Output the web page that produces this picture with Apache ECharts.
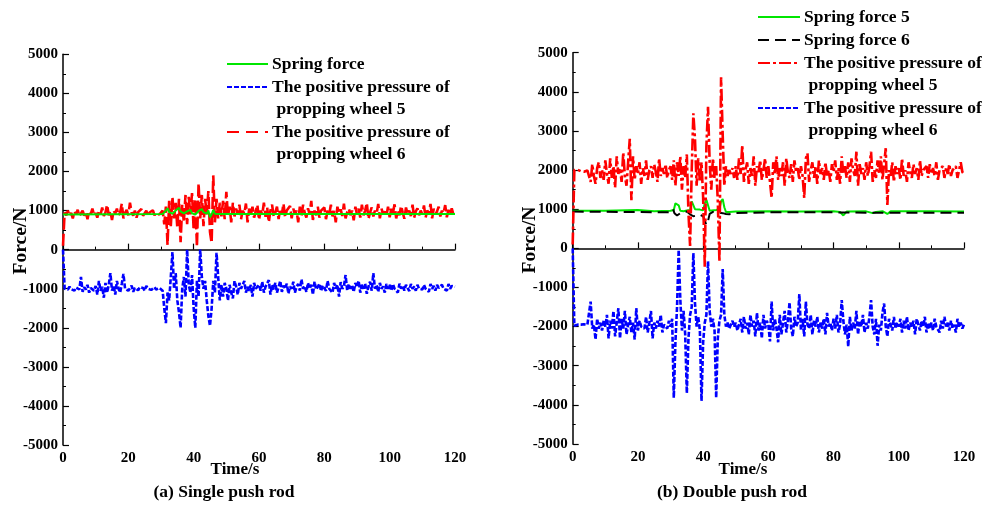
<!DOCTYPE html>
<html>
<head>
<meta charset="utf-8">
<script src="https://cdn.jsdelivr.net/npm/echarts@6/dist/echarts.min.js"></script>
<style>
  html, body { margin: 0; padding: 0; background: #fff; }
  #chart { width: 999px; height: 505px; }
</style>
</head>
<body>
<div id="chart"></div>
<script>
// Sampling grid for the measured forces: one sample every 0.5 s over 0..120 s
const SAMPLE_STEP = 0.5;
const SAMPLE_COUNT = 241;

const xTicks = [0, 20, 40, 60, 80, 100, 120];
const yTicks = [-5000, -4000, -3000, -2000, -1000, 0, 1000, 2000, 3000, 4000, 5000];

// (a) Single push rod — propping wheel 6 positive pressure (N)
const singleWheel6 = [
  100, 950, 880, 1000, 860, 940, 800, 980, 900, 1020, 850, 930, 1000, 870, 960, 780, 990, 910, 1050, 880,
  940, 820, 1000, 900, 1080, 860, 950, 1150, 880, 990, 760, 1000, 920, 1050, 870, 960, 1180, 800, 940, 1020,
  880, 1200, 950, 870, 1000, 820, 960, 910, 1040, 870, 930, 1000, 860, 950, 900, 1010, 880, 940, 990, 900,
  920, 1000, 650, 1100, 120, 1250, 600, 1350, 800, 1200, 550, 1300, 190, 1150, 700, 1400, 650, 1350, 900, 1450,
  500, 1300, 70, 1700, 800, 1400, 600, 1300, 900, 1500, 450, 170, 1900, 700, 1300, 800, 1200, 850, 1250, 780,
  1480, 860, 1100, 700, 1200, 850, 1050, 900, 1150, 780, 1000, 920, 1180, 700, 1050, 880, 1100, 820, 980, 1150,
  760, 1000, 900, 1200, 840, 1080, 700, 1000, 1150, 850, 950, 1100, 780, 1050, 900, 1180, 820, 1000, 950, 1120,
  800, 1050, 900, 1000, 700, 1100, 870, 1150, 940, 820, 1060, 900, 1250, 760, 1000, 880, 1100, 820, 1000, 950,
  1080, 780, 1000, 900, 1150, 850, 990, 700, 1100, 920, 1030, 860, 1180, 800, 960, 1050, 880, 1000, 750, 1100,
  900, 1050, 820, 1150, 880, 1000, 1200, 780, 950, 1080, 850, 1000, 920, 1170, 800, 1050, 900, 980, 860, 1100,
  830, 1050, 940, 1160, 800, 1000, 880, 1120, 950, 790, 1080, 900, 1000, 860, 1150, 820, 980, 1060, 880, 1000,
  900, 1130, 820, 1000, 940, 1170, 800, 1050, 900, 980, 1100, 850, 1000, 930, 1140, 830, 1020, 880, 1060, 900,
  950
];

// (a) Single push rod — propping wheel 5 positive pressure (N)
const singleWheel5 = [
  0, -1000, -980, -1020, -950, -1010, -990, -1050, -970, -1000, -1020, -700, -1080, -960, -1020, -900, -1100, -980, -1000, -1050,
  -930, -1150, -800, -1050, -950, -1230, -850, -1100, -900, -600, -1050, -920, -1150, -800, -1000, -1100, -870, -620, -1000, -950,
  -1050, -1000, -920, -1080, -980, -1000, -1040, -960, -1010, -980, -1050, -930, -1000, -970, -1030, -990, -960, -1020, -1000, -980,
  -1000, -1050, -1500, -1880, -1100, -1300, -700, -60, -1000, -600, -1300, -1600, -2000, -1000, -700, -1200, 0, -900, -1100, -650,
  -1500, -2000, -800, -1200, 0, -700, -1000, -800, -1300, -1700, -1950, -1500, -800, -1100, -80, -700, -1300, -900, -1200, -850,
  -1000, -1300, -900, -1100, -1250, -800, -950, -1150, -850, -1000, -1050, -800, -1100, -950, -1050, -900, -1200, -850, -1000, -950,
  -900, -1050, -820, -1100, -950, -1000, -780, -1150, -900, -1020, -850, -1100, -960, -800, -1080, -920, -1000, -870, -1120, -940,
  -1000, -820, -1100, -950, -880, -1050, -760, -1000, -930, -1080, -850, -1000, -900, -1150, -820, -1020, -950, -870, -1060, -920,
  -880, -1050, -800, -1000, -950, -1100, -850, -1000, -900, -1200, -830, -1000, -940, -650, -1050, -880, -1000, -920, -1080, -850,
  -960, -800, -1100, -900, -1000, -870, -1130, -950, -820, -1050, -600, -1000, -900, -1080, -850, -1000, -940, -1100, -880, -1000,
  -900, -1050, -880, -1000, -950, -1100, -870, -1000, -920, -1050, -900, -980, -1060, -880, -1000, -940, -1050, -900, -1000, -950,
  -1020, -900, -1000, -950, -1080, -880, -1000, -930, -1050, -900, -980, -1020, -900, -1000, -950, -1050, -880, -1000, -930, -980,
  -950
];

// (a) Single push rod — spring force, sampled at its turning points
const singleSpringT = [0, 30.5, 31.5, 32, 32.5, 33.5, 34.5, 35.5, 36, 37, 38, 39, 39.5, 40.5, 41.5, 42.5, 43, 44, 44.5, 45, 45.5, 46, 46.5, 47.5, 120];
const singleSpringF = [900, 910, 1000, 1060, 960, 920, 1000, 1070, 980, 930, 980, 1020, 930, 900, 990, 1040, 960, 920, 1000, 830, 900, 1020, 920, 910, 910];

// (b) Double push rod — propping wheel 5 positive pressure (N)
const doubleWheel5 = [
  100, 2000, 1980, 2010, 1990, 1970, 2000, 1960, 2000, 1990, 2010, 1700, 2150, 1850, 1650, 2050, 2200, 1800, 2000, 1750,
  2250, 1900, 1650, 2300, 1800, 2100, 1550, 2350, 1900, 2050, 1700, 2450, 1850, 1600, 2200, 2800, 1230, 2350, 1750, 2100,
  1900, 2200, 1650, 2050, 1850, 2250, 1750, 2000, 2100, 1800, 2150, 1950, 1700, 2300, 1850, 2050, 1900, 2150, 1800, 2000,
  2100, 1750, 2250, 1600, 2200, 1850, 2350, 1500, 2100, 1800, 2400, 900, 60, 2000, 3450, 2800, 1600, 2300, 1700, 2200,
  1300, -470, 2600, 3620, 2200, 1500, 2300, 1800, 2100, 1200, -340, 4370, 2900, 1600, 2100, 1850, 2000, 1900, 2050, 1800,
  2100, 1750, 2300, 1900, 2640, 1700, 2000, 2200, 1650, 2050, 1850, 2350, 1600, 2100, 1950, 2250, 1750, 2000, 2300, 1800,
  2100, 1700, 1290, 2200, 1900, 2350, 1750, 2050, 1850, 2200, 1600, 2300, 1950, 1800, 2150, 1700, 2250, 1950, 2050, 1750,
  2100, 1850, 1290, 2300, 2430, 1700, 2000, 2200, 1800, 2100, 1650, 2250, 1900, 2050, 1750, 2200, 1850, 2000, 1700, 2150,
  1950, 2250, 1750, 2050, 1650, 2350, 1900, 2100, 1800, 2200, 1700, 2300, 2000, 1850, 2470, 1600, 2150, 1900, 2050, 1750,
  2200, 1850, 2100, 2470, 1700, 2000, 1800, 2250, 1900, 2350, 1750, 2150, 2560, 1110, 2000, 1850, 2200, 1700, 2100, 1900,
  2050, 1750, 2300, 1850, 2000, 1700, 2200, 1950, 1800, 2150, 1900, 2050, 1750, 2250, 1850, 2000, 1950, 2100, 1800, 2150,
  1900, 2050, 1850, 2200, 1750, 2000, 1950, 2100, 1800, 2050, 1900, 2150, 1850, 2000, 1950, 2100, 1800, 2000, 2200, 1950,
  1900
];

// (b) Double push rod — propping wheel 6 positive pressure (N)
const doubleWheel6 = [
  0, -1980, -1960, -1950, -1970, -1950, -1960, -1940, -1980, -1950, -1900, -1360, -2050, -1950, -2330, -1800, -2050, -1900, -2100, -1850,
  -2000, -1700, -2300, -1850, -2050, -1600, -2250, -1900, -1530, -2300, -1800, -2050, -1600, -2200, -1950, -1750, -2150, -1900, -2330, -1530,
  -2100, -1850, -2000, -1950, -2050, -1750, -2150, -1900, -1600, -2300, -1900, -2050, -1850, -2000, -1700, -2150, -1950, -1900, -2050, -1850,
  -2000, -1800, -3820, -2400, -1500, -40, -1300, -2100, -1600, -2200, -3700, -2300, -1700, -1500, -120, -1400, -2000, -1750, -2100, -3900,
  -2400, -1900, -1700, -330, -1600, -2000, -1800, -2100, -3820, -2300, -1850, -1700, -530, -1700, -2000, -1900, -2050, -1950, -1850, -2000,
  -1900, -2100, -1950, -1800, -2150, -1750, -2050, -1900, -2200, -1700, -2000, -1850, -2250, -1650, -2100, -1900, -2300, -1700, -2050, -1850,
  -1950, -2380, -1360, -2100, -1800, -2050, -2400, -1700, -2200, -1900, -1600, -2150, -1850, -1380, -2050, -2250, -1750, -2000, -1900, -1170,
  -2100, -1800, -2250, -1360, -1950, -2050, -1700, -2200, -1850, -2000, -1750, -2150, -1900, -2050, -1800, -2200, -1650, -2000, -1900, -2100,
  -1800, -2050, -1700, -2150, -1950, -1320, -1850, -2200, -1950, -2510, -1750, -2100, -1900, -2050, -1600, -2200, -1850, -2000, -1700, -2150,
  -1900, -2050, -1750, -1320, -2000, -2200, -1800, -2490, -1950, -2100, -1650, -1410, -2000, -2250, -1800, -1950, -2100, -1750, -2050, -1900,
  -2000, -1800, -2150, -1850, -2050, -1750, -2100, -1900, -2000, -1850, -2200, -1800, -1950, -2100, -1850, -2000, -1750, -2150, -1900, -2050,
  -1900, -2100, -1800, -2000, -1950, -2150, -1850, -2050, -1750, -2000, -1900, -2100, -1850, -2050, -1950, -2150, -1800, -2000, -1900, -2050,
  -1950
];

// (b) Double push rod — spring force 5 at its turning points
const doubleSpring5T = [0, 10, 20, 25, 30, 31, 31.5, 32, 32.5, 33, 34, 35, 36, 36.5, 37, 37.5, 38, 39, 40, 40.5, 41, 41.5, 42, 44, 45, 45.5, 46, 46.5, 47, 48, 50, 60, 70, 80, 82, 83, 84, 90, 92, 93, 95, 96.5, 97.5, 110, 120];
const doubleSpring5F = [960, 960, 980, 950, 960, 980, 1150, 1190, 1100, 960, 950, 970, 980, 1200, 1240, 1000, 960, 990, 970, 1150, 1240, 1100, 960, 980, 1000, 1200, 1260, 1050, 930, 930, 940, 950, 940, 950, 930, 840, 940, 945, 900, 930, 950, 880, 950, 945, 940];

// (b) Double push rod — spring force 6 at its turning points
const doubleSpring6T = [0, 30, 30.8, 31.2, 32, 33, 34, 35, 36, 37, 38, 39, 39.5, 40, 41, 41.5, 42, 43, 44, 45, 46, 47, 48, 50, 60, 80, 90, 100, 120];
const doubleSpring6F = [940, 920, 1000, 900, 840, 900, 930, 940, 870, 820, 840, 860, 900, 820, 600, 700, 880, 930, 920, 910, 900, 880, 870, 900, 920, 920, 910, 910, 910];

const sampleTimes = Array.from({ length: SAMPLE_COUNT }, (_, i) => i * SAMPLE_STEP);
const pairSeries = (ys) => ys.map((v, i) => [sampleTimes[i], v]);
const zipPairs = (ts, vs) => ts.map((t, i) => [t, vs[i]]);

const SERIF = "'Liberation Serif', 'Times New Roman', serif";
const GREEN = '#00e600';
const BLUE = '#0000ff';
const RED = '#ff0000';
const BLACK = '#000000';

// line looks: legend samples use the same definitions as the plotted traces
const styles = {
  spring: { color: GREEN, dash: 'solid', width: 2 },
  shortDash: { color: BLUE, dash: [5, 2], width: 2.6 },
  longDashRed: { color: RED, dash: [12, 4], width: 2.6 },
  dashDotRed: { color: RED, dash: [12, 3, 3, 3], width: 2.6 },
  longDashBlack: { color: BLACK, dash: [11, 6], width: 2 }
};

function lineSeries(name, idx, data, st, z) {
  return {
    name, type: 'line', xAxisIndex: idx, yAxisIndex: idx, data,
    showSymbol: false, symbol: 'none', animation: false, z: z,
    lineStyle: { color: st.color, width: st.width, type: st.dash },
    emphasis: { disabled: true }
  };
}

const plainNumber = (v) => String(v);

function xAxisFor(idx) {
  return {
    gridIndex: idx, type: 'value', min: xTicks[0], max: xTicks[xTicks.length - 1], interval: 20,
    axisLine: { lineStyle: { color: '#000', width: 1.5 } },
    axisTick: { inside: true, length: 6, lineStyle: { color: '#000', width: 1.2 } },
    minorTick: { show: true, splitNumber: 2, length: 3, lineStyle: { color: '#000', width: 1 } },
    splitLine: { show: false },
    axisLabel: { color: '#000', fontFamily: SERIF, fontWeight: 'bold', fontSize: 15, margin: 6, formatter: plainNumber }
  };
}

function yAxisFor(idx) {
  return {
    gridIndex: idx, type: 'value', min: yTicks[0], max: yTicks[yTicks.length - 1], interval: 1000,
    axisLine: { show: true, lineStyle: { color: '#000', width: 1.5 } },
    axisTick: { show: true, inside: true, length: 6, lineStyle: { color: '#000', width: 1.2 } },
    minorTick: { show: true, splitNumber: 2, length: 3, lineStyle: { color: '#000', width: 1 } },
    splitLine: { show: false },
    axisLabel: { color: '#000', fontFamily: SERIF, fontWeight: 'bold', fontSize: 15, margin: 5, formatter: plainNumber }
  };
}

function text(str, x, y, size, opts) {
  return Object.assign({
    type: 'text', x, y, silent: true,
    style: {
      text: str, fill: '#000', fontFamily: SERIF, fontWeight: 'bold', fontSize: size,
      align: (opts && opts.align) || 'left', verticalAlign: (opts && opts.va) || 'middle',
      lineHeight: (opts && opts.lh) || size * 1.2
    }
  }, opts && opts.rotation ? { rotation: opts.rotation } : {});
}

function legendLine(x1, x2, y, st) {
  return {
    type: 'line', silent: true,
    shape: { x1, y1: y, x2, y2: y },
    style: { stroke: st.color, lineWidth: 2, lineDash: st.dash === 'solid' ? null : st.dash }
  };
}

const LEG_FS = 17.5;
const LEG_LH = 22.6;

const graphics = [
  // axis titles and captions
  text('Force/N', 21, 241, 19.5, { align: 'center', rotation: Math.PI / 2 }),
  text('Force/N', 530, 240, 19.5, { align: 'center', rotation: Math.PI / 2 }),
  text('Time/s', 235, 470, 17, { align: 'center' }),
  text('Time/s', 743, 470, 17, { align: 'center' }),
  text('(a) Single push rod', 224, 492, 17.5, { align: 'center' }),
  text('(b) Double push rod', 732, 492, 17.5, { align: 'center' }),

  // legend of (a)
  legendLine(227, 268, 64, styles.spring),
  text('Spring force', 272, 64, LEG_FS),
  legendLine(227, 268, 87, styles.shortDash),
  text('The positive pressure of\n propping wheel 5', 272, 87 - LEG_LH / 2, LEG_FS, { va: 'top', lh: LEG_LH }),
  legendLine(227, 268, 132, { color: RED, dash: [12, 7] }),
  text('The positive pressure of\n propping wheel 6', 272, 132 - LEG_LH / 2, LEG_FS, { va: 'top', lh: LEG_LH }),

  // legend of (b)
  legendLine(758, 800, 17, styles.spring),
  text('Spring force 5', 804, 17, LEG_FS),
  legendLine(758, 800, 40, styles.longDashBlack),
  text('Spring force 6', 804, 40, LEG_FS),
  legendLine(758, 800, 63, styles.dashDotRed),
  text('The positive pressure of\n propping wheel 5', 804, 63 - LEG_LH / 2, LEG_FS, { va: 'top', lh: LEG_LH }),
  legendLine(758, 800, 108, styles.shortDash),
  text('The positive pressure of\n propping wheel 6', 804, 108 - LEG_LH / 2, LEG_FS, { va: 'top', lh: LEG_LH })
];

const chart = echarts.init(document.getElementById('chart'), null, { renderer: 'canvas' });
chart.setOption({
  backgroundColor: '#ffffff',
  animation: false,
  grid: [
    { left: 63, top: 54.3, width: 392, height: 390.7 },
    { left: 572.7, top: 52.7, width: 391.3, height: 391.3 }
  ],
  xAxis: [xAxisFor(0), xAxisFor(1)],
  yAxis: [yAxisFor(0), yAxisFor(1)],
  series: [
    lineSeries('a-wheel6', 0, pairSeries(singleWheel6), styles.longDashRed, 2),
    lineSeries('a-wheel5', 0, pairSeries(singleWheel5), styles.shortDash, 2),
    lineSeries('a-spring', 0, zipPairs(singleSpringT, singleSpringF), styles.spring, 3),
    lineSeries('b-spring5', 1, zipPairs(doubleSpring5T, doubleSpring5F), styles.spring, 2),
    lineSeries('b-spring6', 1, zipPairs(doubleSpring6T, doubleSpring6F), styles.longDashBlack, 2),
    lineSeries('b-wheel5', 1, pairSeries(doubleWheel5), styles.dashDotRed, 3),
    lineSeries('b-wheel6', 1, pairSeries(doubleWheel6), styles.shortDash, 3)
  ],
  graphic: graphics
});
</script>
</body>
</html>
